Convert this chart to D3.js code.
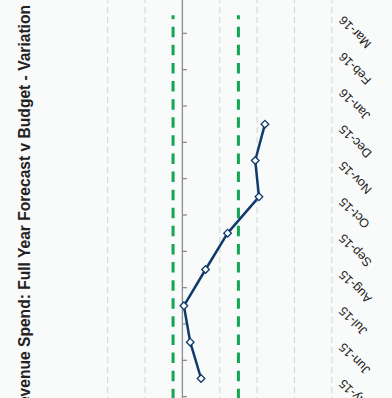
<!DOCTYPE html>
<html>
<head>
<meta charset="utf-8">
<script src="https://cdn.jsdelivr.net/npm/d3@7"></script>
<style>
  html, body { margin: 0; padding: 0; background: #f9fafa; overflow: hidden; }
  svg { display: block; }
  text { font-family: "Liberation Sans", Arial, sans-serif; }
</style>
</head>
<body>
<svg id="chart" width="392" height="398"></svg>
<script>
// Months of the financial year
const months = ["Apr-15", "May-15", "Jun-15", "Jul-15", "Aug-15", "Sep-15",
                "Oct-15", "Nov-15", "Dec-15", "Jan-16", "Feb-16", "Mar-16"];

// Full year forecast minus budget, per reporting month
const variation = [null, -0.50, -0.21, -0.04, -0.62, -1.21, -2.05, -1.95, -2.21, null, null, null];

// Tolerance band around budget
const upperLimit = [0.25, 0.25, 0.25, 0.25, 0.25, 0.25, 0.25, 0.25, 0.25, 0.25, 0.25, 0.25];
const lowerLimit = [-1.5, -1.5, -1.5, -1.5, -1.5, -1.5, -1.5, -1.5, -1.5, -1.5, -1.5, -1.5];

// Value axis ticks
const valueTicks = [-4, -3, -2, -1, 0, 1, 2];

const title = "Revenue Spend: Full Year Forecast v Budget - Variation";

const svg = d3.select("#chart");
const W = +svg.attr("width"), H = +svg.attr("height");

svg.append("rect").attr("width", W).attr("height", H).attr("fill", "#f9fafa");

// The chart is laid out landscape and turned a quarter turn anticlockwise
const g = svg.append("g").attr("transform", `translate(0,${H}) rotate(-90)`);

const x = d3.scaleBand().domain(months).range([-35.0, 401.0]);
const cx = m => x(m) + x.bandwidth() / 2;
const y = d3.scaleLinear().domain([-4, 2]).range([331.8, 107.7]);

const [x0, x1] = x.range();

// Horizontal gridlines
g.append("g").selectAll("line").data(valueTicks).join("line")
  .attr("x1", x0).attr("x2", x1)
  .attr("y1", d => y(d)).attr("y2", d => y(d))
  .attr("stroke", "#d4d1d1").attr("stroke-width", 1)
  .attr("stroke-dasharray", "6,4");

// Category axis sitting on zero, ticks between months
const axis = g.append("g");
axis.append("line")
  .attr("x1", x0).attr("x2", x1)
  .attr("y1", y(0)).attr("y2", y(0))
  .attr("stroke", "#8c8c8c").attr("stroke-width", 1.3);
const bounds = months.map(m => x(m)).concat([x1]);
axis.selectAll("line.tick").data(bounds).join("line")
  .attr("class", "tick")
  .attr("x1", d => d).attr("x2", d => d)
  .attr("y1", y(0)).attr("y2", y(0) + 4.5)
  .attr("stroke", "#8c8c8c").attr("stroke-width", 1.3);

// Month labels under the plot
g.append("g").selectAll("text").data(months).join("text")
  .attr("transform", d => `translate(${cx(d)},344) rotate(-45)`)
  .attr("text-anchor", "end")
  .attr("font-size", 12.5)
  .attr("fill", "#222")
  .text(d => d);

// Tolerance lines
const limitLine = d3.line().x((d, i) => cx(months[i])).y(d => y(d));
[upperLimit, lowerLimit].forEach(arr => {
  g.append("path").datum(arr)
    .attr("d", limitLine)
    .attr("fill", "none")
    .attr("stroke", "#13a655").attr("stroke-width", 3)
    .attr("stroke-dasharray", "10.5,7.6")
    .attr("stroke-dashoffset", 2.5);
});

// Variation series
const seriesLine = d3.line()
  .defined(d => d != null)
  .x((d, i) => cx(months[i])).y(d => y(d));
g.append("path").datum(variation)
  .attr("d", seriesLine)
  .attr("fill", "none")
  .attr("stroke", "#103a6b").attr("stroke-width", 2.5)
  .attr("stroke-linejoin", "round");

const r = 3.8;
g.append("g").selectAll("path")
  .data(variation.map((v, i) => ({ m: months[i], v })).filter(d => d.v != null))
  .join("path")
  .attr("transform", d => `translate(${cx(d.m)},${y(d.v)})`)
  .attr("d", `M0,${-r}L${r},0L0,${r}L${-r},0Z`)
  .attr("fill", "#fff").attr("stroke", "#103a6b").attr("stroke-width", 1.3);

// Title
g.append("text")
  .attr("x", 393).attr("y", 29.5)
  .attr("text-anchor", "end")
  .attr("font-size", 15.6).attr("font-weight", "bold")
  .attr("fill", "#222")
  .text(title);
</script>
</body>
</html>
